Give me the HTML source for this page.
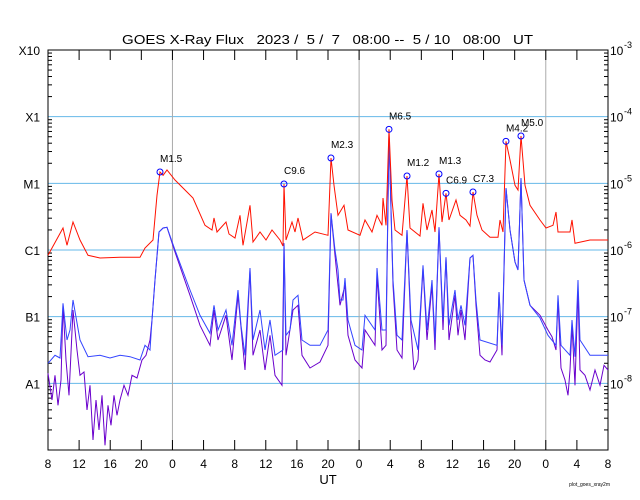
<!DOCTYPE html>
<html><head><meta charset="utf-8"><style>
body{margin:0;background:#fff}
svg{display:block;font-family:"Liberation Sans",sans-serif}
text{white-space:pre}
</style></head><body>
<svg id="c" width="640" height="500"></svg>
<script>
const redT=[0,1.93,2.44,3.21,4.11,5.14,6.69,9.26,11.83,12.47,13.5,14.01,14.4,14.8,15.3,16.33,17.87,18.64,20.19,21.09,21.34,21.73,22.89,23.27,24.04,24.69,25.07,25.97,26.36,27.26,28.03,28.8,29.83,30.21,30.34,30.6,31.37,31.76,32.14,32.79,34.33,36.0,36.38,36.77,37.28,38.06,38.57,40.11,40.76,41.66,42.3,42.94,43.07,43.46,43.84,44.23,44.61,45.51,46.16,46.54,47.83,48.21,48.73,49.37,49.76,50.27,50.66,51.17,51.56,52.46,52.97,53.74,54.26,54.64,55.16,55.8,56.83,57.86,58.11,58.5,58.88,59.4,60.04,60.43,60.81,61.33,61.97,63.26,64.03,64.93,65.31,65.57,67.11,67.37,67.76,69.68,72];
const redV=[-6.08,-5.67,-5.93,-5.58,-5.85,-6.08,-6.12,-6.11,-6.11,-5.97,-5.85,-5.18,-4.83,-4.88,-4.8,-4.95,-5.13,-5.22,-5.63,-5.7,-5.52,-5.73,-5.58,-5.76,-5.82,-5.48,-5.93,-5.33,-5.88,-5.73,-5.85,-5.7,-5.85,-5.94,-5.01,-5.85,-5.58,-5.73,-5.52,-5.85,-5.73,-5.78,-4.62,-5.03,-5.48,-5.33,-5.7,-5.78,-5.55,-5.73,-5.48,-5.63,-5.22,-5.63,-4.19,-5.25,-5.7,-5.78,-4.89,-5.67,-5.79,-5.3,-5.7,-5.4,-5.73,-4.86,-5.58,-5.15,-5.55,-5.25,-5.48,-5.55,-5.64,-5.13,-5.48,-5.7,-5.81,-5.81,-5.55,-5.73,-4.37,-4.65,-5.03,-5.1,-4.29,-5.03,-5.33,-5.55,-5.67,-5.63,-5.43,-5.73,-5.73,-5.55,-5.9,-5.85,-5.85];
const blueT=[0,0.9,1.54,1.93,2.44,2.83,3.21,4.11,5.14,6.69,7.97,9.26,10.54,11.83,12.47,13.11,13.37,13.76,14.27,14.8,15.3,16.33,18.26,19.54,20.83,21.34,21.86,22.89,23.66,24.43,24.81,25.33,25.97,26.36,27.26,27.9,28.54,29.19,30.21,30.34,30.6,31.11,31.5,32.14,32.66,33.69,34.97,36.0,36.38,36.9,37.28,37.54,37.93,38.18,38.57,39.47,40.37,40.76,42.04,42.3,42.94,43.46,43.84,44.36,44.87,45.51,46.16,46.67,47.57,48.21,48.73,49.37,49.76,50.27,50.78,51.17,51.56,52.33,52.71,53.1,53.61,54.26,54.64,55.03,55.54,57.73,57.99,58.37,58.88,59.4,60.04,60.43,60.81,61.2,61.97,63.26,64.29,65.31,65.57,65.96,67.11,67.37,67.76,68.14,68.4,69.68,72];
const blueV=[-7.7,-7.58,-7.62,-6.8,-7.35,-7.2,-6.75,-7.35,-7.6,-7.58,-7.62,-7.58,-7.6,-7.65,-7.43,-7.5,-7.05,-6.45,-5.73,-5.67,-5.66,-6.0,-6.6,-6.98,-7.25,-6.83,-7.2,-6.9,-7.43,-6.6,-7.13,-7.58,-6.27,-7.35,-6.9,-7.5,-7.05,-7.58,-7.5,-5.9,-7.28,-7.2,-6.75,-6.68,-7.35,-7.43,-7.43,-7.2,-5.45,-6.0,-6.3,-6.75,-6.75,-6.42,-7.05,-7.43,-7.5,-6.98,-7.2,-6.27,-7.2,-7.2,-4.28,-6.45,-7.28,-7.35,-5.7,-7.05,-7.5,-6.23,-7.2,-6.45,-7.35,-5.66,-7.05,-6.11,-7.13,-6.6,-7.05,-6.83,-7.13,-6.12,-6.08,-6.75,-7.35,-7.43,-6.63,-7.43,-5.07,-5.7,-6.18,-6.3,-4.92,-6.45,-6.83,-7.02,-7.28,-7.43,-6.68,-7.43,-7.58,-7.05,-7.6,-6.45,-7.35,-7.58,-7.58];
const purpT=[0,0.51,0.9,1.29,1.67,1.93,2.31,2.7,3.21,3.73,4.11,4.63,5.01,5.4,5.79,6.17,6.56,6.94,7.33,7.71,8.1,8.49,8.87,9.26,9.77,10.29,10.8,11.44,12.09,12.6,13.11,13.37,13.76,14.27,14.8,15.3,16.33,18.26,19.54,20.83,21.34,21.86,22.89,23.66,24.43,25.33,25.97,26.36,27.26,27.9,28.54,29.19,30.08,30.34,30.6,31.5,32.14,32.66,33.69,34.97,36.0,36.38,36.9,37.54,38.18,38.57,39.47,40.37,40.76,42.04,42.3,42.94,43.46,43.84,44.36,44.87,45.51,46.16,46.67,47.06,47.57,48.21,48.73,49.37,49.76,50.27,50.78,51.17,51.56,52.33,52.71,53.1,53.61,54.26,54.64,55.03,55.54,56.19,56.83,57.73,57.99,58.37,58.88,59.4,60.04,60.43,60.81,61.2,61.97,63.26,64.29,64.8,65.31,65.57,65.96,66.47,66.86,67.11,67.37,67.76,68.14,68.4,69.04,69.68,70.33,70.97,71.49,72];
const purpV=[-7.85,-8.25,-7.88,-8.33,-7.95,-6.83,-7.65,-8.18,-6.9,-7.5,-7.88,-7.83,-8.4,-8.03,-8.85,-8.25,-8.7,-8.18,-8.93,-8.33,-8.63,-8.18,-8.48,-8.25,-8.03,-8.18,-7.88,-7.92,-7.65,-7.58,-7.35,-7.05,-6.45,-5.73,-5.67,-5.66,-6.03,-6.68,-7.13,-7.43,-6.9,-7.35,-6.98,-7.65,-6.68,-7.8,-6.3,-7.58,-7.2,-7.8,-7.28,-7.88,-8.03,-5.9,-7.58,-6.9,-6.83,-7.58,-7.77,-7.68,-7.43,-5.45,-6.08,-6.83,-6.53,-7.28,-7.65,-7.77,-7.2,-7.43,-6.38,-7.5,-7.43,-4.28,-6.53,-7.5,-7.62,-5.7,-7.2,-7.8,-7.65,-6.27,-7.35,-6.53,-7.5,-5.66,-7.2,-6.11,-7.35,-6.68,-7.28,-6.9,-7.35,-6.12,-6.08,-6.83,-7.58,-7.65,-7.68,-7.5,-6.63,-7.58,-5.07,-5.7,-6.18,-6.3,-4.92,-6.45,-6.83,-6.98,-7.2,-7.3,-7.5,-6.75,-7.77,-7.95,-8.18,-7.8,-7.13,-8.03,-6.6,-7.8,-7.88,-8.1,-7.8,-8.03,-7.73,-7.8];
const flareNames=["M1.5","C9.6","M2.3","M6.5","M1.2","M1.3","C6.9","C7.3","M4.2","M5.0"];
const flareT=[14.4,30.34,36.38,43.84,46.16,50.27,51.17,54.64,58.88,60.81];
const flareV=[-4.83,-5.01,-4.62,-4.19,-4.89,-4.86,-5.15,-5.13,-4.37,-4.29];
const xTickLabels=["8","12","16","20","0","4","8","12","16","20","0","4","8","12","16","20","0","4","8"];
const leftLabels=["X10","X1","M1","C1","B1","A1"];
const rightExp=["-3","-4","-5","-6","-7","-8"];

const X0=48,X1=608,Y0=50,Y1=450;
const xs=t=>X0+t*(X1-X0)/72;
const ys=v=>Y0+(-3-v)*(Y1-Y0)/6;
const svg=document.getElementById('c');const NS="http://www.w3.org/2000/svg";
function mk(tag,at,txt){const e=document.createElementNS(NS,tag);for(const k in at)e.setAttribute(k,at[k]);if(txt!=null)e.textContent=txt;svg.appendChild(e);return e;}
let e;
e=mk('text',{x:122,y:44,'font-size':13,textLength:411,lengthAdjust:'spacingAndGlyphs'},'GOES X-Ray Flux   2023 /  5 /  7   08:00 --  5 / 10   08:00   UT');


for(let i=1;i<6;i++){
 e=mk('line',{x1:X0,x2:X1,y1:ys(-3-i),y2:ys(-3-i),stroke:'#66b8e8','stroke-width':1});
 
 
}
for(const d of [16,40,64]){
 e=mk('line',{x1:xs(d),x2:xs(d),y1:Y0,y2:Y1,stroke:'#aaa','stroke-width':1});
 
 
}
e=mk('rect',{x:X0,y:Y0,width:X1-X0,height:Y1-Y0,fill:'none',stroke:'#000','stroke-width':1});


xTickLabels.forEach((l,i)=>{const x=xs(i*4);
 mk('line',{x1:x,x2:x,y1:Y1,y2:Y1-10,stroke:'#000'});
 mk('line',{x1:x,x2:x,y1:Y0,y2:Y0+10,stroke:'#000'});
 e=mk('text',{x:x,y:468,'text-anchor':'middle','font-size':12},l);
 
 
});
for(let i=0;i<6;i++){const y=ys(-3-i);
 for(let k=2;k<10;k++){const yy=ys(-3-i-1+Math.log10(k));mk('line',{x1:X0,x2:X0+4,y1:yy,y2:yy,stroke:'#000'});mk('line',{x1:X1,x2:X1-4,y1:yy,y2:yy,stroke:'#000'});}
 e=mk('text',{x:40,y:y+5,'text-anchor':'end','font-size':12},leftLabels[i]);
 
 
 e=mk('text',{x:610,y:y+5,'font-size':12},'10');
 
 
 mk('text',{x:624,y:y-2,'font-size':9},rightExp[i]);
}
e=mk('text',{x:328,y:484,'text-anchor':'middle','font-size':13},'UT');


e=mk('text',{x:610,y:486,'text-anchor':'end','font-size':5},'plot_goes_xray2m');


function line(T,V,col,name){const d=T.map((t,i)=>(i?'L':'M')+xs(t).toFixed(1)+','+ys(V[i]).toFixed(1)).join('');
 const p=mk('path',{d:d,fill:'none',stroke:col,'stroke-width':1});
 
 }
line(purpT,purpV,'#6a00cc','series-short-secondary');
line(blueT,blueV,'#3344ff','series-short');
line(redT,redV,'#ff1100','series-long');
flareNames.forEach((n,i)=>{
 e=mk('circle',{cx:xs(flareT[i]),cy:ys(flareV[i]),r:3,fill:'none',stroke:'#0000ff'});
 
 
 e=mk('text',{x:xs(flareT[i]),y:ys(flareV[i])-10,'font-size':10},n);
 
 
});
</script>
</body></html>
